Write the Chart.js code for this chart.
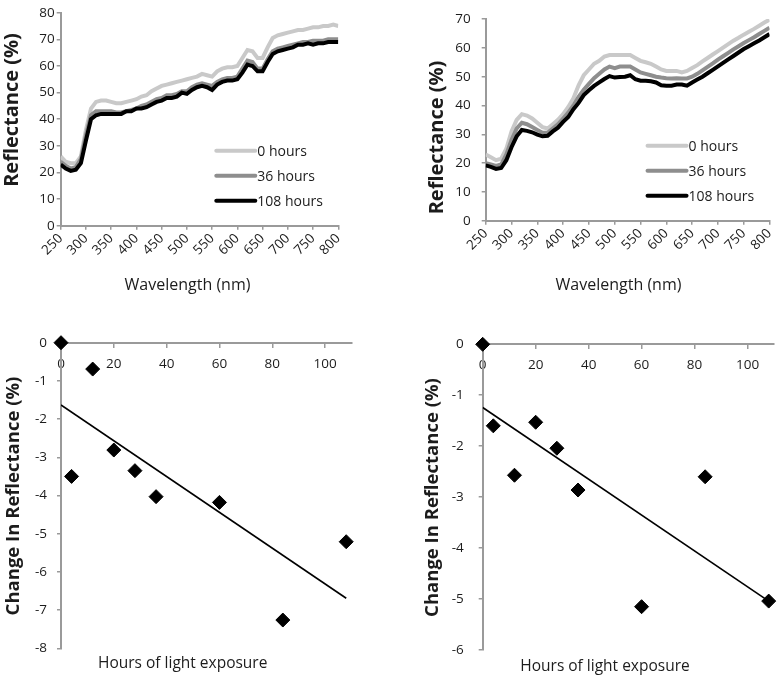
<!DOCTYPE html>
<html>
<head>
<meta charset="utf-8">
<script src="https://cdn.jsdelivr.net/npm/chart.js@4.4.1/dist/chart.umd.min.js"></script>
<style>
  body { margin: 0; background: #fff; }
  canvas { position: absolute; }
</style>
</head>
<body>
<canvas id="specA" width="391" height="300" style="left:0;top:0"></canvas>
<canvas id="specB" width="391" height="300" style="left:391px;top:0"></canvas>
<canvas id="chgA" width="391" height="359" style="left:0;top:320px"></canvas>
<canvas id="chgB" width="391" height="359" style="left:391px;top:320px"></canvas>
<script>
// ---- data ----
const wavelengths = [250,260,270,280,290,300,310,320,330,340,350,360,370,380,390,400,410,420,430,440,
  450,460,470,480,490,500,510,520,530,540,550,560,570,580,590,600,610,620,630,640,
  650,660,670,680,690,700,710,720,730,740,750,760,770,780,790,800];
const seriesLabels = ['0 hours', '36 hours', '108 hours'];

// top left panel
const specA_0h = [26,24,23.5,23.5,26,36,44,46.5,47,47,46.5,46,46,46.5,47,47.5,48.5,49,50.5,51.5,
  52.5,53,53.5,54,54.5,55,55.5,56,57,56.5,56,58,59,59.5,59.5,60,63,66,65.5,63,
  63,67,70.5,71.5,72,72.5,73,73.5,73.5,74,74.5,74.5,75,75,75.5,75];
const specA_36h = [24,22.5,21.5,22,25,34,41.5,43,43,43,43,42.5,42.5,43,43.5,44,45,45.5,46.5,47.5,
  48,49,49,49.5,50.5,50.5,52,53,53.5,53,52.5,54,55,55.5,55.5,56,59,62,61.5,59,
  59,62.5,65.5,66.5,67,67.5,68,68.5,69,69,69.5,69.5,69.5,70,70,70];
const specA_108h = [23,21.5,20.6,21,23.5,32,40,41.5,42,42,42,42,42,43,43,44,44,44.5,45.5,46.5,
  47,48,48,48.5,50,49.5,51,52,52.5,52,51,53,54,54.5,54.5,55,57.5,60.5,60,58,
  58,61.5,64.5,65.5,66,66.5,67,68,68,68.5,68,68.5,68.5,69,69,69];

// top right panel
const specB_0h = [23,22,21,21.5,25,31,35,37,36.5,35.5,34,32.5,32,33.5,35,37,39.5,42.5,47,50.5,
  52.5,54.5,55.5,57,57.5,57.5,57.5,57.5,57.5,56.5,55.5,55,54.5,53.5,52.5,52,52,52,51.5,52,
  53,54,55.3,56.5,57.7,58.9,60.1,61.3,62.5,63.5,64.6,65.6,66.6,67.7,68.8,69.8];
const specB_36h = [20,19.5,19,19.5,23,28,32,34,33.5,32.5,31.5,30.5,30.5,32,33.5,35.5,37.5,40,43,45.5,
  47.5,49.5,51,52.5,53.5,53,53.5,53.5,53.5,52.5,51.5,51,50.5,50,49.7,49.5,49.4,49.5,49.4,49.4,
  50,51,52.2,53.4,54.6,55.9,57.1,58.3,59.5,60.6,61.7,62.7,63.7,64.8,65.9,67];
const specB_108h = [19.2,18.7,18,18.3,21,25.5,29.3,31.5,31.2,30.7,29.9,29.3,29.5,31,32.3,34.3,36,38.7,40.9,43.6,
  45.3,46.8,48,49.2,50.2,49.7,49.9,50,50.5,49.1,48.6,48.6,48.4,48,47,46.9,46.9,47.3,47.3,46.9,
  48,49,50,51.2,52.4,53.6,54.8,56,57.2,58.4,59.6,60.6,61.6,62.6,63.7,64.8];

// bottom panels: change in reflectance vs hours of light exposure
const hours = [0,4,12,20,28,36,60,84,108];
const changeA = [0,-3.5,-0.69,-2.81,-3.35,-4.03,-4.18,-7.26,-5.21];
const changeB = [0,-1.6,-2.57,-1.53,-2.04,-2.86,-5.15,-2.6,-5.04];
const trendHours = [0,108];
const trendA = [-1.63,-6.69];
const trendB = [-1.24,-5.04];

// ---- styling ----
const FONT = '"Open Sans", "Noto Sans", sans-serif';
const lineColors = ['#c9c9c9', '#8e8e8e', '#000000'];
const axisGray = '#9a9a9a';
const textColor = '#1c1c1c';

function toPoints(xs, ys) {
  return xs.map((x, i) => ({ x: x, y: ys[i] }));
}

// titles and an in-plot legend, placed like the original figure
const panelText = {
  id: 'panelText',
  afterDraw(chart, args, opts) {
    const ctx = chart.ctx;
    ctx.save();
    ctx.fillStyle = textColor;
    ctx.textAlign = 'center';
    ctx.textBaseline = 'middle';
    ctx.font = opts.xFont;
    ctx.fillText(opts.xText, opts.xAt[0], opts.xAt[1]);
    ctx.save();
    ctx.translate(opts.yAt[0], opts.yAt[1]);
    ctx.rotate(-Math.PI / 2);
    ctx.font = opts.yFont;
    ctx.fillText(opts.yText, 0, 0);
    ctx.restore();

    if (opts.legend) {
      const a = chart.chartArea;
      const lg = opts.legend;
      ctx.textAlign = 'left';
      ctx.font = lg.font;
      chart.data.datasets.forEach((ds, i) => {
        const y = a.bottom - lg.rows[i];
        const x0 = a.right - lg.fromRight;
        ctx.strokeStyle = ds.borderColor;
        ctx.lineWidth = 4;
        ctx.lineCap = 'round';
        ctx.beginPath();
        ctx.moveTo(x0, y);
        ctx.lineTo(x0 + lg.len, y);
        ctx.stroke();
        ctx.fillStyle = textColor;
        ctx.fillText(ds.label, x0 + lg.len + 2, y + 1);
      });
    }
    ctx.restore();
  }
};

function axisBase(tickPad) {
  return {
    grid: { drawOnChartArea: false, color: axisGray, lineWidth: 1.5, tickLength: 4 },
    border: { color: axisGray, width: 2 },
    ticks: { color: textColor, padding: tickPad, autoSkip: false, font: { family: FONT, size: 13.5 } }
  };
}

function spectrumChart(id, series, yMax, padding, yTickPad, text) {
  const x = axisBase(1);
  const y = axisBase(yTickPad);
  return new Chart(document.getElementById(id), {
    type: 'line',
    data: {
      datasets: series.map((ys, i) => ({
        label: seriesLabels[i],
        data: toPoints(wavelengths, ys),
        borderColor: lineColors[i],
        borderWidth: 4,
        pointRadius: 0,
        tension: 0,
        fill: false,
        order: series.length - 1 - i
      }))
    },
    options: {
      responsive: false,
      animation: false,
      layout: { padding: padding },
      plugins: { legend: { display: false }, tooltip: { enabled: false }, panelText: text },
      scales: {
        x: Object.assign(x, {
          type: 'linear', min: 250, max: 800,
          ticks: Object.assign(x.ticks, { stepSize: 50, minRotation: 45, maxRotation: 45 }),
          afterFit: s => { s.height = 40; }
        }),
        y: Object.assign(y, {
          min: 0, max: yMax,
          ticks: Object.assign(y.ticks, { stepSize: 10 }),
          afterFit: s => { s.width = 50; }
        })
      }
    },
    plugins: [panelText]
  });
}

function changeChart(id, ys, trendYs, yMin, padding, yTickPad, text) {
  const x = axisBase(9);
  const y = axisBase(yTickPad);
  return new Chart(document.getElementById(id), {
    type: 'scatter',
    data: {
      datasets: [
        {
          data: toPoints(hours, ys),
          pointStyle: 'rectRot',
          pointRadius: 7,
          backgroundColor: '#000',
          borderColor: '#000',
          clip: false,
          order: 0
        },
        {
          type: 'line',
          data: toPoints(trendHours, trendYs),
          borderColor: '#000',
          borderWidth: 1.6,
          pointRadius: 0,
          order: 1
        }
      ]
    },
    options: {
      responsive: false,
      animation: false,
      layout: { padding: padding },
      plugins: { legend: { display: false }, tooltip: { enabled: false }, panelText: text },
      scales: {
        x: Object.assign(x, {
          type: 'linear', position: { y: 0 }, min: 0, max: 110,
          ticks: Object.assign(x.ticks, { stepSize: 20, includeBounds: false })
        }),
        y: Object.assign(y, {
          min: yMin, max: 0,
          ticks: Object.assign(y.ticks, { stepSize: 1 }),
          afterFit: s => { s.width = 50; }
        })
      }
    },
    plugins: [panelText]
  });
}

const legendBox = { fromRight: 122, len: 39, rows: [75, 50, 25], font: '14px ' + FONT };

spectrumChart('specA', [specA_0h, specA_36h, specA_108h], 80,
  { left: 10.7, top: 12.7, right: 52.7, bottom: 34.3 }, 2,
  { xText: 'Wavelength (nm)', xAt: [187.5, 285], xFont: '16px ' + FONT,
    yText: 'Reflectance (%)', yAt: [12.5, 110], yFont: 'bold 20px ' + FONT, legend: legendBox });

spectrumChart('specB', [specB_0h, specB_36h, specB_108h], 70,
  { left: 44.7, top: 8.3, right: 9.3, bottom: 39.3 }, 11,
  { xText: 'Wavelength (nm)', xAt: [227.5, 285], xFont: '16px ' + FONT,
    yText: 'Reflectance (%)', yAt: [45.8, 137.5], yFont: 'bold 20px ' + FONT, legend: legendBox });

changeChart('chgA', changeA, trendA, -8,
  { left: 11, top: 22.7, right: 39.5, bottom: 30.7 }, 10,
  { xText: 'Hours of light exposure', xAt: [182.7, 343.3], xFont: '15.5px ' + FONT,
    yText: 'Change In Reflectance (%)', yAt: [14, 176], yFont: 'bold 18.5px ' + FONT });

changeChart('chgB', changeB, trendB, -6,
  { left: 41.7, top: 24.3, right: 8, bottom: 29 }, 15,
  { xText: 'Hours of light exposure', xAt: [214, 346.7], xFont: '15.5px ' + FONT,
    yText: 'Change In Reflectance (%)', yAt: [42, 177.5], yFont: 'bold 18.5px ' + FONT });
</script>
</body>
</html>
